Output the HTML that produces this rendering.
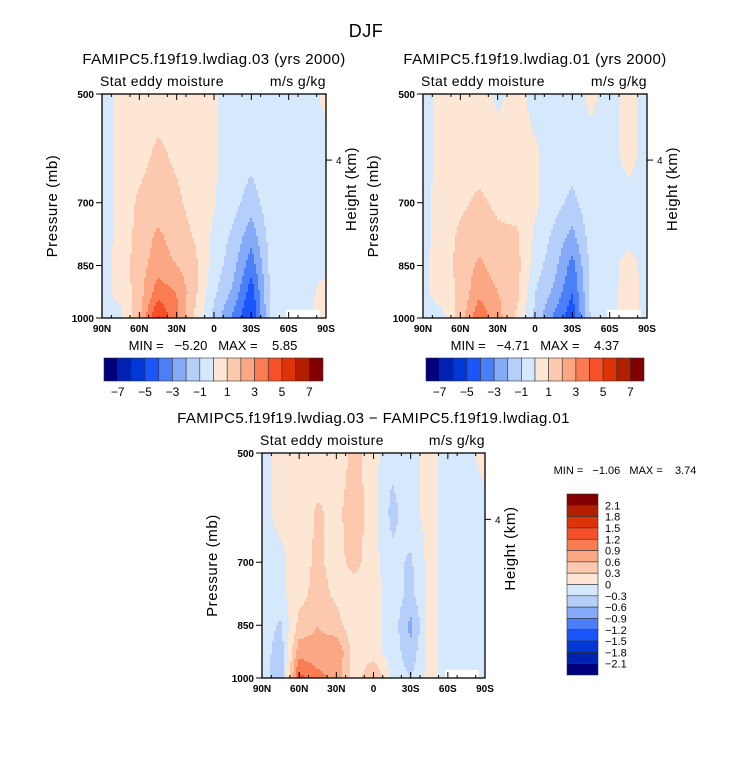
<!DOCTYPE html>
<html><head><meta charset="utf-8">
<style>
body{margin:0;background:#fff;width:733px;height:772px;overflow:hidden}
svg text{font-family:"Liberation Sans",sans-serif;fill:#000;white-space:pre}
</style></head>
<body>
<svg id="s" width="733" height="772" xmlns="http://www.w3.org/2000/svg">
<text x="366" y="37" font-size="18" text-anchor="middle" letter-spacing="0.5">DJF</text>
</svg>
<script>
// ---- data ----
const lats = [90,75,60,45,30,15,0,-15,-30,-45,-60,-75,-90];
const levels = [500,600,700,775,850,925,1000];
// rows = levels, columns = lats
const fieldA = [
 [-0.5,0.3,0.4,0.5,0.5,0.4,0.1,-0.3,-0.3,-0.2,-0.3,-0.3,0.2],
 [-0.5,0.3,0.6,1.2,0.8,0.5,0.1,-0.4,-0.6,-0.3,-0.3,-0.3,-0.3],
 [-0.5,0.3,1.2,1.5,1.2,0.6,0.1,-0.6,-1.5,-0.4,-0.3,-0.3,-0.3],
 [-0.5,0.3,1.4,2.2,1.5,0.9,-0.2,-1.2,-2.6,-0.6,-0.3,-0.3,-0.3],
 [-0.4,0.4,1.6,2.5,2.0,1.2,-0.4,-1.6,-3.6,-0.8,-0.3,-0.3,-0.3],
 [-0.3,0.3,1.5,3.6,3.0,1.2,-0.8,-2.2,-4.6,-0.9,-0.3,-0.3,0.4],
 [-0.3,-0.3,1.8,5.2,3.2,0.8,-1.3,-3.2,-5.2,-1.0,-0.3,-0.2,0.5]
];
const fieldB = [
 [-0.4,0.3,0.4,0.4,-0.2,0.3,-0.3,-0.3,-0.3,0.2,-0.3,0.3,-0.3],
 [-0.4,0.3,0.5,0.5,0.4,0.3,0.1,-0.3,-0.4,-0.3,-0.3,0.3,-0.3],
 [-0.3,0.4,0.8,1.2,0.8,0.5,0.2,-0.6,-1.3,-0.3,-0.3,-0.3,-0.3],
 [-0.3,0.4,1.2,1.6,1.2,1.2,-0.2,-1.2,-2.3,-0.5,-0.3,-0.3,-0.3],
 [-0.3,0.6,1.3,2.2,1.5,1.4,-0.5,-1.6,-3.4,-0.7,-0.3,0.3,-0.3],
 [-0.2,0.4,1.2,2.8,2.0,1.4,-1.0,-2.2,-4.0,-0.8,-0.3,0.4,-0.3],
 [-0.3,-0.3,1.4,3.8,2.4,0.8,-1.2,-3.2,-4.7,-0.8,-0.3,0.4,-0.3]
];
const fieldD = [
 [-0.1,0.1,0.1,0.1,0.1,0.4,0.1,-0.2,-0.1,0.1,-0.1,-0.1,0.1],
 [-0.1,0.1,0.1,0.35,0.2,0.5,0.1,-0.4,-0.1,0.1,-0.1,-0.1,-0.1],
 [-0.1,-0.1,0.2,0.35,0.2,0.4,0.1,-0.2,-0.35,0.1,-0.1,-0.1,-0.1],
 [-0.1,-0.1,0.2,0.4,0.25,0.1,0.1,-0.1,-0.4,0.1,-0.1,-0.1,-0.1],
 [-0.1,-0.35,0.4,0.6,0.4,0.1,0.1,-0.1,-0.7,0.1,-0.1,-0.3,-0.1],
 [-0.1,-0.5,0.8,0.7,0.9,0.1,0.1,-0.1,-0.5,0.1,-0.1,-0.3,-0.1],
 [-0.1,-0.6,1.3,1.0,0.8,0.1,0.7,-0.1,-0.3,0.1,-0.1,-0.2,-0.1]
];
const lvA = [-7,-6,-5,-4,-3,-2,-1,0,1,2,3,4,5,6,7];
const lvD = [-2.1,-1.8,-1.5,-1.2,-0.9,-0.6,-0.3,0,0.3,0.6,0.9,1.2,1.5,1.8,2.1];
const cbLabelsA = ["-7","-5","-3","-1","1","3","5","7"];
const cbLabelsD = ["2.1","1.8","1.5","1.2","0.9","0.6","0.3","0","-0.3","-0.6","-0.9","-1.2","-1.5","-1.8","-2.1"];
const xTicks = ["90N","60N","30N","0","30S","60S","90S"];
const pTicks = [500,700,850,1000];
const colors = ["#00007d","#0022b0","#0038d8","#1a55fc","#4a7ff8","#85abf8","#b5cffa","#d6e8fc","#fde6d3","#fcc8ae","#fba783","#f97c52","#f5502a","#dd3305","#b11e00","#830000"];
// ---- render ----
const NS="http://www.w3.org/2000/svg", S=document.getElementById('s');
function el(t,a,p){const e=document.createElementNS(NS,t);for(const k in a)e.setAttribute(k,a[k]);(p||S).appendChild(e);return e;}
function txt(x,y,s,sz,anc,p,rot){const e=el('text',{x:x,y:y,'font-size':sz,'text-anchor':anc||'middle'},p);if(rot)e.setAttribute('transform',`rotate(-90 ${x} ${y})`);e.textContent=s;return e;}
function colorFor(v,lv){let i=0;while(i<lv.length&&v>=lv[i])i++;return colors[i];}
function interp(f,lat,p){
  let fi=(90-lat)/15; fi=Math.max(0,Math.min(lats.length-1.0001,fi));
  let li=0; while(li<levels.length-2&&p>levels[li+1])li++;
  let t=(Math.log(p)-Math.log(levels[li]))/(Math.log(levels[li+1])-Math.log(levels[li])); t=Math.max(0,Math.min(1,t));
  const i=Math.floor(fi),u=fi-i;
  const a=f[li][i]*(1-u)+f[li][i+1]*u, b=f[li+1][i]*(1-u)+f[li+1][i+1]*u;
  return a*(1-t)+b*t;
}
function panel(name,x0,y0,w,h,f,lv,title){
  const g=el('g',{});
  
  
  const xs=lat=>x0+(90-lat)/180*w;
  const ys=p=>y0+(Math.log(p)-Math.log(500))/(Math.log(1000)-Math.log(500))*h;
  const c=2;
  for(let py=0;py<h;py+=c){for(let px=0;px<w;px+=c){
    const lat=90-(px+c/2)/w*180;
    const p=500*Math.exp((py+c/2)/h*Math.log(2));
    el('rect',{x:x0+px,y:y0+py,width:Math.min(c,w-px)+0.3,height:Math.min(c,h-py)+0.3,fill:colorFor(interp(f,lat,p),lv)},g);
  }}
  el('rect',{x:xs(-58),y:ys(975),width:xs(-85)-xs(-58),height:ys(1000)-ys(975),fill:'#fff'},g);
  const fr=el('rect',{x:x0,y:y0,width:w,height:h,fill:'none',stroke:'#000','stroke-width':1.3},g);
  
  
  xTicks.forEach((t,i)=>{const x=x0+i*w/6;
    el('line',{x1:x,y1:y0+h,x2:x,y2:y0+h-6,stroke:'#000'},g);
    el('line',{x1:x,y1:y0,x2:x,y2:y0+6,stroke:'#000'},g);
    const tl=txt(x,y0+h+14,t,10,'middle',g);
    tl.setAttribute('font-weight','bold');
    
    });
  for(let i=0;i<12;i++){const x=x0+(i+0.5)*w/12;el('line',{x1:x,y1:y0+h,x2:x,y2:y0+h-3,stroke:'#000'},g);el('line',{x1:x,y1:y0,x2:x,y2:y0+3,stroke:'#000'},g);}
  pTicks.forEach(p=>{const y=ys(p);el('line',{x1:x0-6,y1:y,x2:x0,y2:y,stroke:'#000'},g);
    const tl=txt(x0-8,y+4,String(p),10,'end',g);
    tl.setAttribute('font-weight','bold');
    
    });
  const yk=y0+h*0.295;
  el('line',{x1:x0+w,y1:yk,x2:x0+w+6,y2:yk,stroke:'#000'},g);
  txt(x0+w+10,yk+4,'4',10,'start',g);
  const yt=txt(x0-45,y0+h/2,'Pressure (mb)',15,'middle',g,true);
  yt.setAttribute('letter-spacing','0.6');
  
  
  const ht=txt(x0+w+30,y0+h/2-17,'Height (km)',15,'middle',g,true);
  ht.setAttribute('letter-spacing','0.6');
  
  
  const st=txt(x0-2,y0-8,'Stat eddy moisture',14,'start',g);
  st.setAttribute('letter-spacing','0.4');
  
  
  const un=txt(x0+w,y0-8,'m/s g/kg',14,'end',g);
  un.setAttribute('letter-spacing','0.4');
  
  
  const tt=txt(x0+w/2,y0-30,title,15,'middle',g);
  tt.setAttribute('letter-spacing','0.4');
  
  
}
function hbar(name,x0,y0,w,h){
  const g=el('g',{});
  
  
  const cw=w/colors.length;
  colors.forEach((c,i)=>el('rect',{x:x0+i*cw,y:y0,width:cw,height:h,fill:c,stroke:'#333','stroke-width':0.6},g));
  cbLabelsA.forEach((l,i)=>{const t=txt(x0+(1+2*i)*cw,y0+h+15,l.replace('-','\u2212'),12,'middle',g);
    
    });
}
panel('panel-lwdiag03',102,94,224,224,fieldA,lvA,'FAMIPC5.f19f19.lwdiag.03 (yrs 2000)');
panel('panel-lwdiag01',423,94,224,224,fieldB,lvA,'FAMIPC5.f19f19.lwdiag.01 (yrs 2000)');
panel('panel-difference',262,453,223,225,fieldD,lvD,'FAMIPC5.f19f19.lwdiag.03 \u2212 FAMIPC5.f19f19.lwdiag.01');
let m;
m=txt(213,350,'MIN =   \u22125.20   MAX =    5.85',13,'middle');


m=txt(535,350,'MIN =   \u22124.71   MAX =    4.37',13,'middle');


m=txt(625,474,'MIN =   \u22121.06   MAX =    3.74',11,'middle');


hbar('colorbar-top-left',104,358,219,23);
hbar('colorbar-top-right',426,358,218,23);
// vertical colorbar
const vg=el('g',{});


const vh=181/colors.length;
colors.slice().reverse().forEach((c,i)=>el('rect',{x:567,y:494+i*vh,width:31,height:vh,fill:c,stroke:'#333','stroke-width':0.6},vg));
cbLabelsD.forEach((l,i)=>{const t=txt(605,494+(i+1)*vh+4,l.replace('-','\u2212'),11,'start',vg);
  
  });
</script>
</body></html>
